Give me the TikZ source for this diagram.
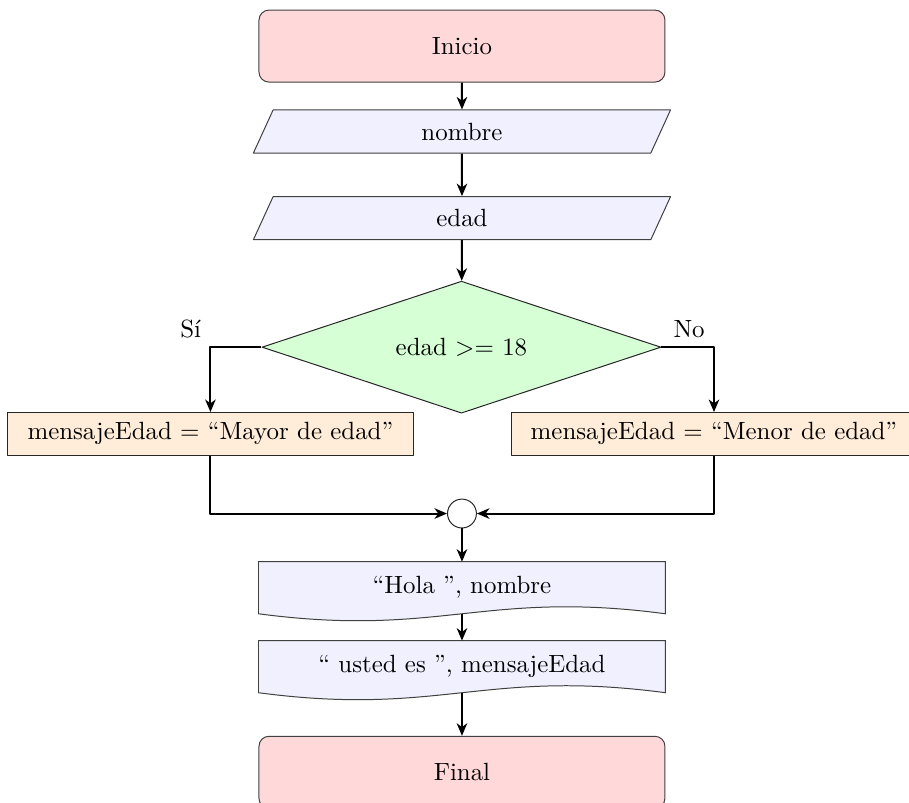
\documentclass[tikz,border=0pt]{standalone}
\usepackage{amsmath,amssymb}
\usepackage{xcolor}
\usepackage{tikz}
\usetikzlibrary{shapes.geometric,arrows.meta,backgrounds}

\begin{document}
\begin{tikzpicture}[x=1pt,y=1pt,line join=round,
  terminal/.style={rectangle,rounded corners=4pt,draw=black!75,fill=red!15,minimum width=163pt,minimum height=28.9pt},
  entrada/.style={trapezium,trapezium left angle=60,trapezium right angle=120,trapezium stretches body,draw=black!75,fill=blue!6,minimum width=167.5pt,minimum height=17.3pt},
  decision/.style={diamond,shape aspect=3,draw=black!85,fill=green!16,minimum width=160.2pt,minimum height=53pt,inner sep=0pt},
  proceso/.style={rectangle,draw=black!85,fill=orange!15,minimum width=162.9pt,minimum height=17.1pt},
  salida/.style={rectangle,minimum width=163pt,minimum height=20.5pt},
  union/.style={circle,draw=black!85,fill=white,minimum size=11.6pt,inner sep=0pt},
  flecha/.style={-{Stealth[length=5pt,width=4.2pt,inset=1.5pt]},line width=0.8pt}]
\useasboundingbox (-185.5,18.5) rectangle (179.5,-303.6);
% nodos
\node[terminal] (inicio) at (0,0) {Inicio};
\node[entrada] (nombre) at (0,-34.3) {nombre};
\node[entrada] (edad) at (0,-69.1) {edad};
\node[decision] (cond) at (-0.2,-120.9) {edad >= 18};
\node[proceso] (mayor) at (-101.0,-155.7) {mensajeEdad = ``Mayor de edad''};
\node[proceso] (menor) at (101.2,-155.7) {mensajeEdad = ``Menor de edad''};
\node[union] (junta) at (0,-187.7) {};
\node[salida] (hola) at (0,-217.5) {``Hola '', nombre};
\node[salida] (usted) at (0,-249.2) {`` usted es '', mensajeEdad};
\node[terminal] (final) at (0,-291.6) {Final};
% documentos
\begin{scope}[on background layer]
\foreach \d in {hola,usted}
  \filldraw[draw=black!75,fill=blue!6] (\d.south west) -- (\d.north west) -- (\d.north east) -- (\d.south east)
    .. controls ([shift={(-73pt,9.7pt)}]\d.south east) and ([shift={(73pt,-9.7pt)}]\d.south west) .. (\d.south west) -- cycle;
\end{scope}
% flechas
\draw[flecha] (inicio) -- (nombre);
\draw[flecha] (nombre) -- (edad);
\draw[flecha] (edad) -- (cond);
\draw[flecha] (cond.west) -| node[above left] {Sí} (mayor);
\draw[flecha] (cond.east) -| node[above left] {No} (menor);
\draw[flecha] (mayor) |- (junta);
\draw[flecha] (menor) |- (junta);
\draw[flecha] (junta) -- (hola);
\draw[flecha] (hola) -- (usted);
\draw[flecha] (usted) -- (final);
\end{tikzpicture}
\end{document}
